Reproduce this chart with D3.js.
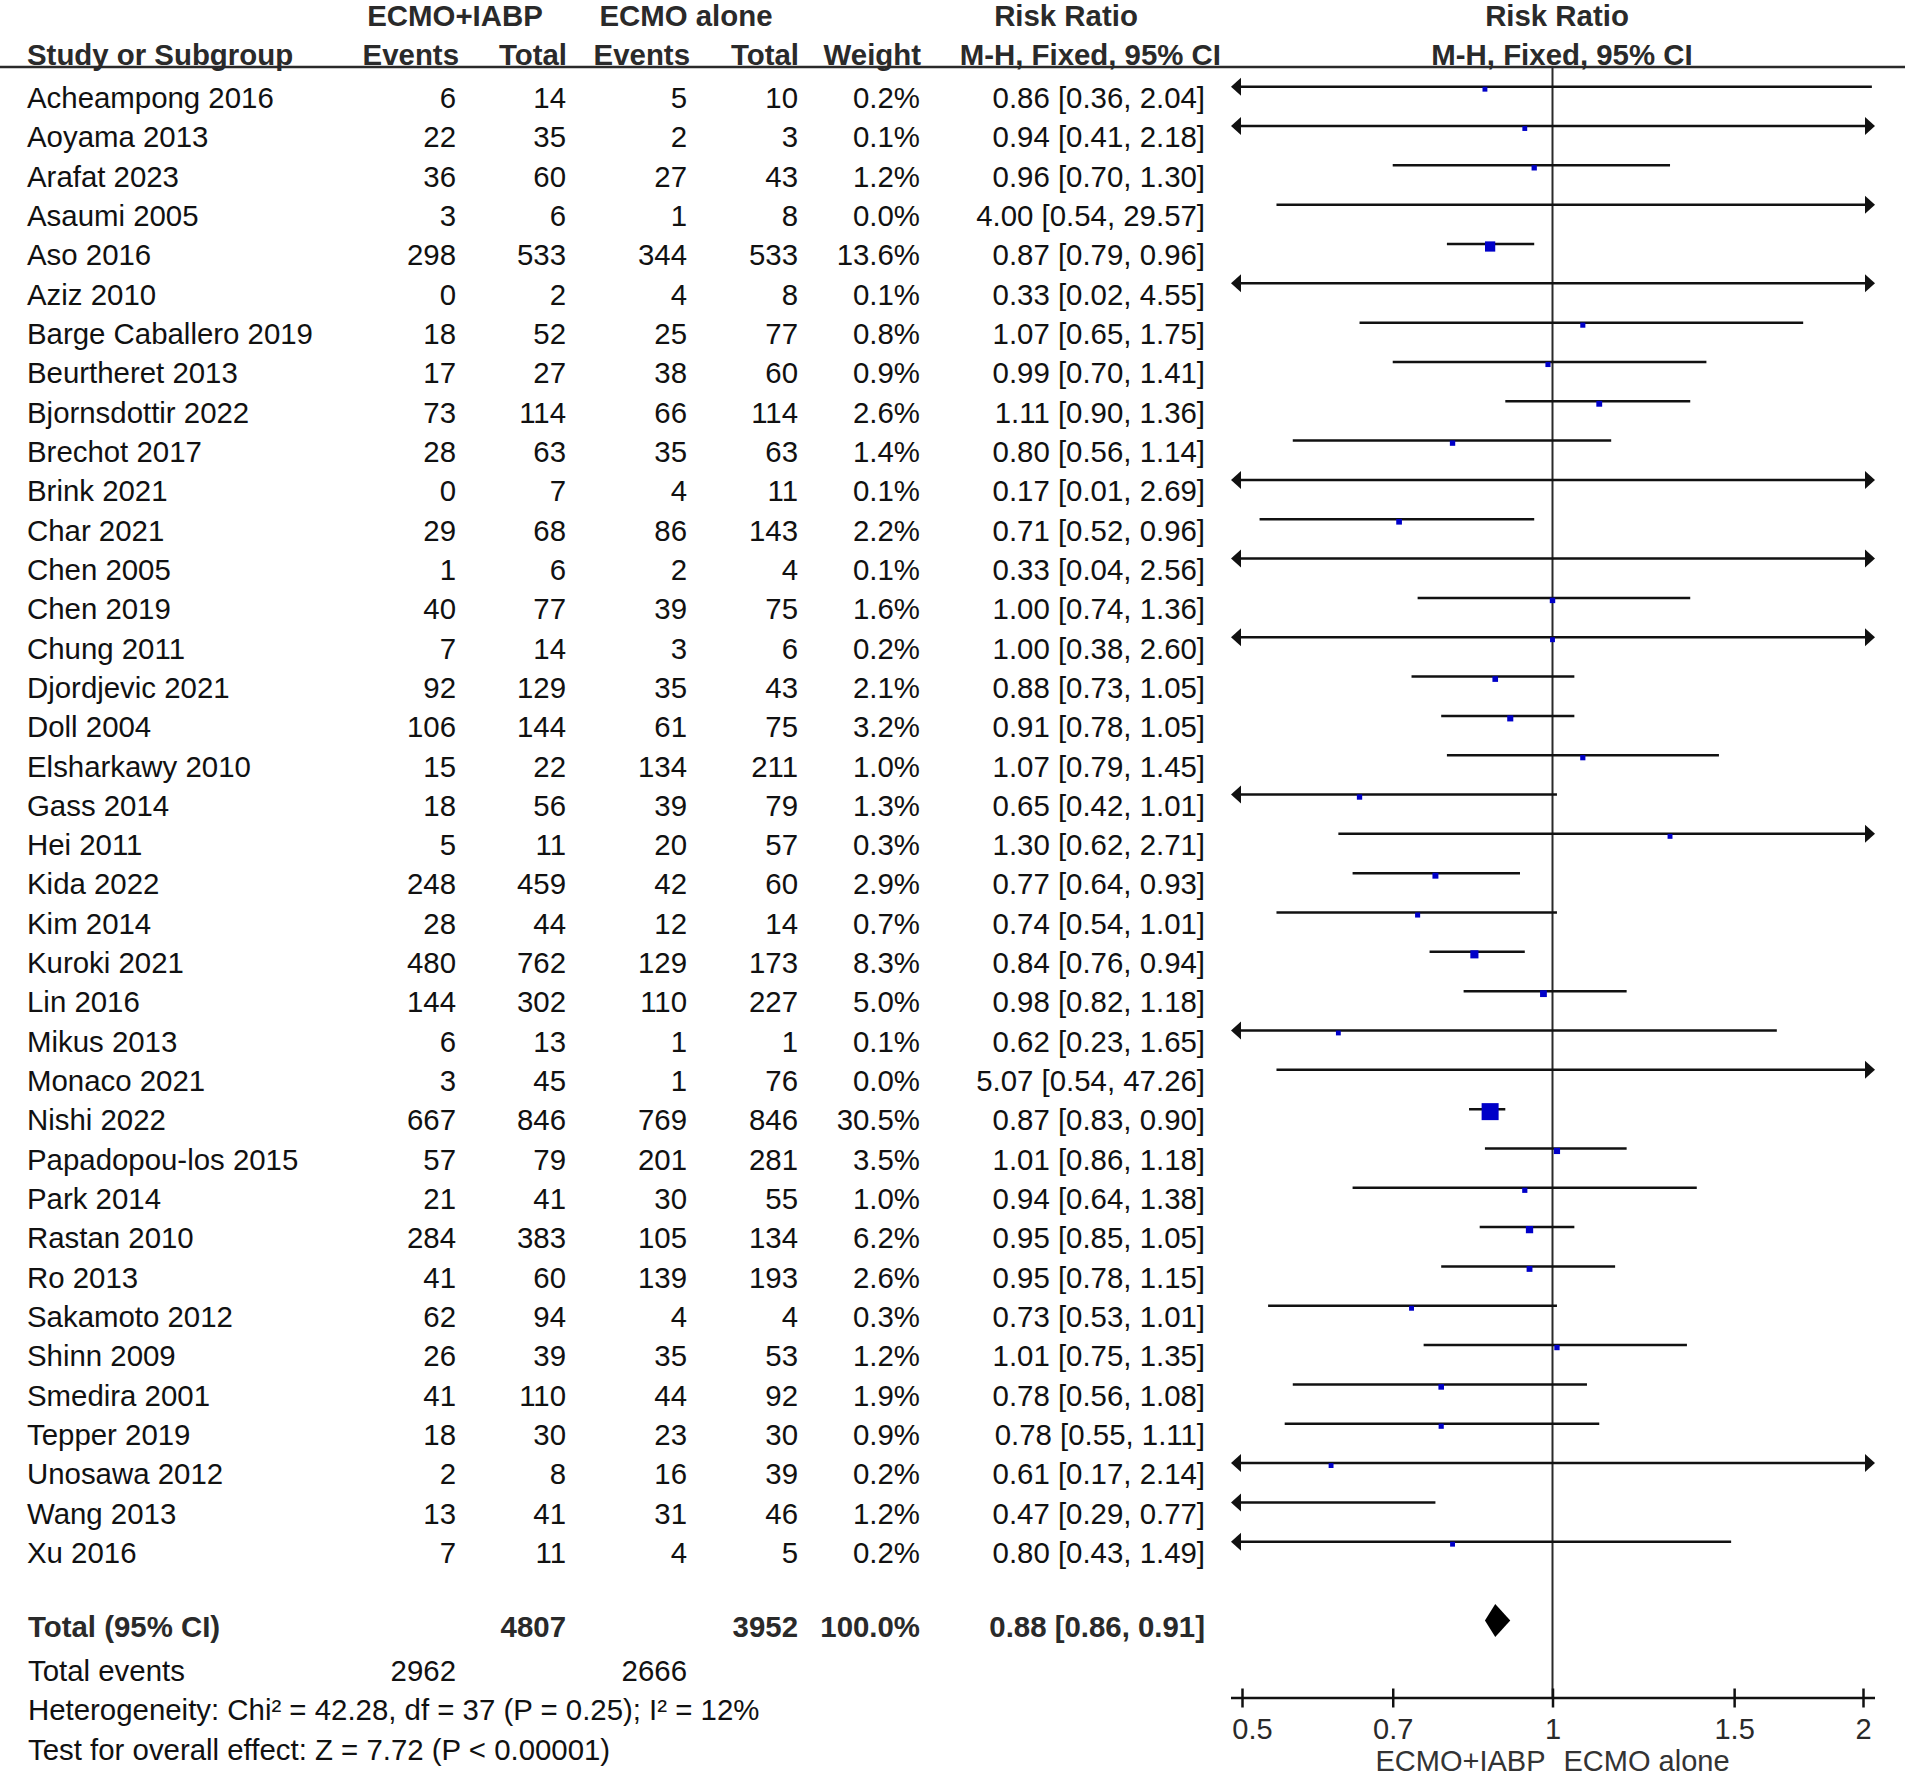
<!DOCTYPE html>
<html>
<head>
<meta charset="utf-8">
<script src="https://cdn.jsdelivr.net/npm/d3@7"></script>
<style>
  body { margin: 0; background: #fff; }
  svg { display: block; font-family: "Liberation Sans", Arial, sans-serif; }
</style>
</head>
<body>
<script>
// forest plot data
var studies = ["Acheampong 2016", "Aoyama 2013", "Arafat 2023", "Asaumi 2005", "Aso 2016", "Aziz 2010",
  "Barge Caballero 2019", "Beurtheret 2013", "Bjornsdottir 2022", "Brechot 2017", "Brink 2021", "Char 2021",
  "Chen 2005", "Chen 2019", "Chung 2011", "Djordjevic 2021", "Doll 2004", "Elsharkawy 2010", "Gass 2014",
  "Hei 2011", "Kida 2022", "Kim 2014", "Kuroki 2021", "Lin 2016", "Mikus 2013", "Monaco 2021", "Nishi 2022",
  "Papadopou-los 2015", "Park 2014", "Rastan 2010", "Ro 2013", "Sakamoto 2012", "Shinn 2009", "Smedira 2001",
  "Tepper 2019", "Unosawa 2012", "Wang 2013", "Xu 2016"];
var eventsIabp = [6, 22, 36, 3, 298, 0, 18, 17, 73, 28, 0, 29, 1, 40, 7, 92, 106, 15, 18, 5, 248, 28, 480, 144, 6, 3, 667, 57, 21, 284, 41, 62, 26, 41, 18, 2, 13, 7];
var totalIabp = [14, 35, 60, 6, 533, 2, 52, 27, 114, 63, 7, 68, 6, 77, 14, 129, 144, 22, 56, 11, 459, 44, 762, 302, 13, 45, 846, 79, 41, 383, 60, 94, 39, 110, 30, 8, 41, 11];
var eventsAlone = [5, 2, 27, 1, 344, 4, 25, 38, 66, 35, 4, 86, 2, 39, 3, 35, 61, 134, 39, 20, 42, 12, 129, 110, 1, 1, 769, 201, 30, 105, 139, 4, 35, 44, 23, 16, 31, 4];
var totalAlone = [10, 3, 43, 8, 533, 8, 77, 60, 114, 63, 11, 143, 4, 75, 6, 43, 75, 211, 79, 57, 60, 14, 173, 227, 1, 76, 846, 281, 55, 134, 193, 4, 53, 92, 30, 39, 46, 5];
var weights = [0.2, 0.1, 1.2, 0.0, 13.6, 0.1, 0.8, 0.9, 2.6, 1.4, 0.1, 2.2, 0.1, 1.6, 0.2, 2.1, 3.2, 1.0, 1.3, 0.3, 2.9, 0.7, 8.3, 5.0, 0.1, 0.0, 30.5, 3.5, 1.0, 6.2, 2.6, 0.3, 1.2, 1.9, 0.9, 0.2, 1.2, 0.2];
var rr = [0.86, 0.94, 0.96, 4.00, 0.87, 0.33, 1.07, 0.99, 1.11, 0.80, 0.17, 0.71, 0.33, 1.00, 1.00, 0.88, 0.91, 1.07, 0.65, 1.30, 0.77, 0.74, 0.84, 0.98, 0.62, 5.07, 0.87, 1.01, 0.94, 0.95, 0.95, 0.73, 1.01, 0.78, 0.78, 0.61, 0.47, 0.80];
var ciLow = [0.36, 0.41, 0.70, 0.54, 0.79, 0.02, 0.65, 0.70, 0.90, 0.56, 0.01, 0.52, 0.04, 0.74, 0.38, 0.73, 0.78, 0.79, 0.42, 0.62, 0.64, 0.54, 0.76, 0.82, 0.23, 0.54, 0.83, 0.86, 0.64, 0.85, 0.78, 0.53, 0.75, 0.56, 0.55, 0.17, 0.29, 0.43];
var ciHigh = [2.04, 2.18, 1.30, 29.57, 0.96, 4.55, 1.75, 1.41, 1.36, 1.14, 2.69, 0.96, 2.56, 1.36, 2.60, 1.05, 1.05, 1.45, 1.01, 2.71, 0.93, 1.01, 0.94, 1.18, 1.65, 47.26, 0.90, 1.18, 1.38, 1.05, 1.15, 1.01, 1.35, 1.08, 1.11, 2.14, 0.77, 1.49];

var totalSizes = [4807, 3952];
var totalEvents = [2962, 2666];
var totalWeight = 100.0;
var pooled = [0.88, 0.86, 0.91]; // rr, low, high
var axisTicks = [0.5, 0.7, 1, 1.5, 2];
var heterogeneity = "Heterogeneity: Chi² = 42.28, df = 37 (P = 0.25); I² = 12%";
var overallTest = "Test for overall effect: Z = 7.72 (P < 0.00001)";

var W = 1905, H = 1779;
var FS = 29.4;
var dark = "#2a2a2a", ink = "#111";

var svg = d3.select("body").append("svg")
  .attr("width", W)
  .attr("height", H);

svg.append("rect").attr("width", W).attr("height", H).attr("fill", "#fff");

var x = d3.scaleLog().domain([0.5, 2]).range([1242, 1863]);
var plotMin = x.range()[0] - 11, plotMax = x.range()[1] + 12;
var y = d3.scalePoint().domain(d3.range(studies.length)).range([108, 1563]);
var lineOff = -21.3;
var boxSize = d3.scaleLinear().domain([0, 30.5]).range([4.8, 17]);

var f2 = d3.format(".2f"), f1 = d3.format(".1f");
function ciText(r, lo, hi) { return f2(r) + " [" + f2(lo) + ", " + f2(hi) + "]"; }

function txt(s, px, py, anchor, bold, size, color) {
  return svg.append("text")
    .attr("x", px).attr("y", py)
    .attr("text-anchor", anchor || "start")
    .attr("font-size", size || FS)
    .attr("font-weight", bold ? "bold" : "normal")
    .attr("fill", color || (bold ? dark : ink))
    .text(s);
}

// headers
txt("ECMO+IABP", 455, 26, "middle", true);
txt("ECMO alone", 686, 26, "middle", true);
txt("Risk Ratio", 1066, 26, "middle", true);
txt("Risk Ratio", 1557, 26, "middle", true);
txt("Study or Subgroup", 27, 65, "start", true);
txt("Events", 459, 65, "end", true);
txt("Total", 567, 65, "end", true);
txt("Events", 690, 65, "end", true);
txt("Total", 799, 65, "end", true);
txt("Weight", 921, 65, "end", true);
txt("M-H, Fixed, 95% CI", 1221, 65, "end", true);
txt("M-H, Fixed, 95% CI", 1562, 65, "middle", true);

svg.append("line")
  .attr("x1", 0).attr("x2", W).attr("y1", 67).attr("y2", 67)
  .attr("stroke", dark).attr("stroke-width", 2.5);

// table columns
var cols = [
  { vals: eventsIabp, x: 456 },
  { vals: totalIabp, x: 566 },
  { vals: eventsAlone, x: 687 },
  { vals: totalAlone, x: 798 },
  { vals: weights.map(function(w){ return f1(w) + "%"; }), x: 920 },
  { vals: rr.map(function(r, i){ return ciText(r, ciLow[i], ciHigh[i]); }), x: 1205 }
];

var rows = svg.append("g");
rows.selectAll("text.name").data(studies).enter().append("text")
  .attr("class", "name")
  .attr("x", 27).attr("y", function(d, i){ return y(i); })
  .attr("font-size", FS).attr("fill", ink)
  .text(function(d){ return d; });

cols.forEach(function(c){
  rows.selectAll(null).data(c.vals).enter().append("text")
    .attr("x", c.x).attr("y", function(d, i){ return y(i); })
    .attr("text-anchor", "end")
    .attr("font-size", FS).attr("fill", ink)
    .text(function(d){ return d; });
});

// reference line at 1
svg.append("line")
  .attr("x1", x(1)).attr("x2", x(1)).attr("y1", 67).attr("y2", 1698)
  .attr("stroke", dark).attr("stroke-width", 2);

// confidence intervals, arrows and boxes
var plot = svg.append("g");
studies.forEach(function(s, i){
  var ly = y(i) + lineOff;
  var x1 = x(ciLow[i]), x2 = x(ciHigh[i]);
  var la = x1 < plotMin, ra = x2 > plotMax;
  var a = la ? plotMin + 10 : x1, b = ra ? plotMax - 10 : x2;
  plot.append("line")
    .attr("x1", a).attr("x2", b).attr("y1", ly).attr("y2", ly)
    .attr("stroke", ink).attr("stroke-width", 2.5);
  if (la) {
    plot.append("path")
      .attr("d", "M" + plotMin + "," + ly + "L" + (plotMin + 10) + "," + (ly - 9) + "L" + (plotMin + 10) + "," + (ly + 9) + "Z")
      .attr("fill", ink);
  }
  if (ra) {
    plot.append("path")
      .attr("d", "M" + plotMax + "," + ly + "L" + (plotMax - 10) + "," + (ly - 9) + "L" + (plotMax - 10) + "," + (ly + 9) + "Z")
      .attr("fill", ink);
  }
  var cx = x(rr[i]);
  if (cx >= plotMin && cx <= plotMax) {
    var sz = boxSize(weights[i]);
    plot.append("rect")
      .attr("x", cx - sz / 2).attr("y", ly + 2.5 - sz / 2)
      .attr("width", sz).attr("height", sz)
      .attr("fill", "#0000c8");
  }
});

// total rows
var yTot = 1637;
txt("Total (95% CI)", 28, yTot, "start", true);
txt(totalSizes[0], 566, yTot, "end", true);
txt(totalSizes[1], 798, yTot, "end", true);
txt(f1(totalWeight) + "%", 920, yTot, "end", true);
txt(ciText(pooled[0], pooled[1], pooled[2]), 1205, yTot, "end", true);

var dy = 1620.5;
svg.append("path")
  .attr("d", "M" + x(pooled[1]) + "," + dy + "L" + x(pooled[0]) + "," + (dy - 16.5) +
    "L" + x(pooled[2]) + "," + dy + "L" + x(pooled[0]) + "," + (dy + 16.5) + "Z")
  .attr("fill", "#000");

txt("Total events", 28, 1681);
txt(totalEvents[0], 456, 1681, "end");
txt(totalEvents[1], 687, 1681, "end");
txt(heterogeneity, 28, 1720);
txt(overallTest, 28, 1760);

// axis
var axisY = 1698;
svg.append("line")
  .attr("x1", plotMin).attr("x2", plotMax).attr("y1", axisY).attr("y2", axisY)
  .attr("stroke", ink).attr("stroke-width", 2.5);

var ax = svg.append("g")
  .attr("transform", "translate(0," + axisY + ")")
  .call(d3.axisBottom(x).tickValues(axisTicks).tickFormat(d3.format("")).tickSize(9.5));
ax.select(".domain").remove();
ax.selectAll(".tick line").attr("y1", -9.5).attr("stroke", ink).attr("stroke-width", 2.5);
ax.selectAll(".tick text")
  .attr("font-size", 29).attr("fill", dark)
  .attr("font-family", "Liberation Sans, Arial, sans-serif")
  .attr("dy", null).attr("y", 41)
  .attr("x", function(d){ return d === axisTicks[0] ? 10 : 0; });

txt("ECMO+IABP", x(1) - 7, 1771, "end", false, 29, "#333");
txt("ECMO alone", x(1) + 11, 1771, "start", false, 29, "#333");
</script>
</body>
</html>
